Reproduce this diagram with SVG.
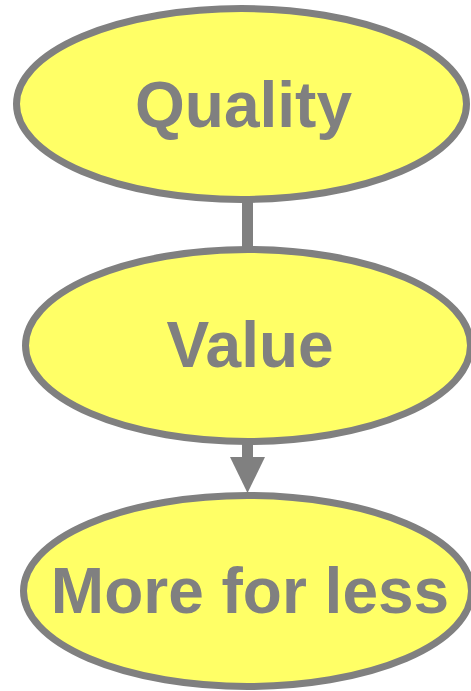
<svg xmlns="http://www.w3.org/2000/svg" width="471" height="691" viewBox="0 0 471 691">
<style>
.node ellipse{fill:#FFFF66;stroke:#808080;stroke-width:7}
.node text{font-family:"Liberation Sans",Arial,sans-serif;font-weight:bold;font-size:64px;fill:#808080;text-anchor:middle}
.conn line{stroke:#808080;stroke-width:11}
.conn polygon{fill:#808080}
</style>
<rect width="471" height="691" fill="#ffffff"/>
<g id="connectors" class="conn">
<line x1="247.5" y1="200" x2="247.5" y2="250"/>
<line x1="247.5" y1="440" x2="247.5" y2="460"/>
<polygon points="230,457 265,457 247.5,493"/>
</g>
<g id="quality" class="node">
<ellipse cx="241.5" cy="104" rx="225" ry="95.5"/>
<text x="243.5" y="127">Quality</text>
</g>
<g id="value" class="node">
<ellipse cx="248" cy="345.5" rx="222.5" ry="96"/>
<text x="250" y="367">Value</text>
</g>
<g id="more" class="node">
<ellipse cx="247.5" cy="591" rx="224" ry="95.5"/>
<text x="250" y="613">More for less</text>
</g>
</svg>
